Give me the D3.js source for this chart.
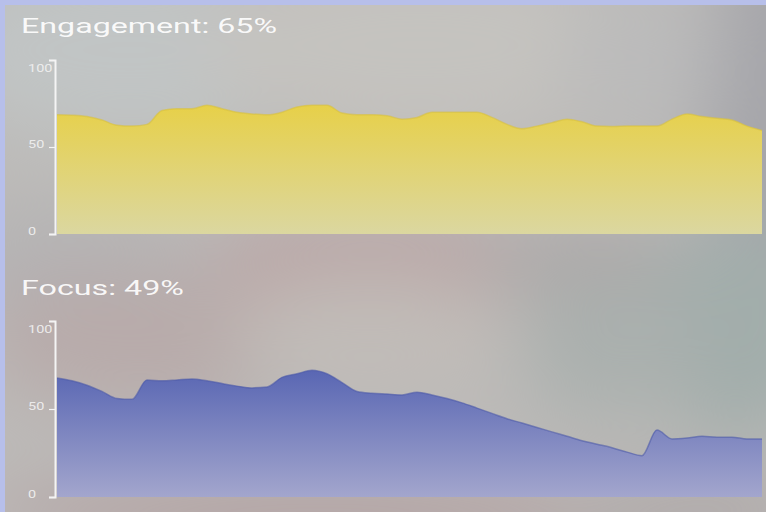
<!DOCTYPE html>
<html><head><meta charset="utf-8">
<script src="https://cdn.jsdelivr.net/npm/d3@7"></script>
<style>html,body{margin:0;padding:0;background:#b7bfea;overflow:hidden} svg{display:block}</style>
</head><body><svg id="c" width="766" height="512"></svg>
<script>
// ---- data ----
const engagementValues = [68.6,68.3,67.5,65.5,62.5,62,63,71,72,72,74,72,70,69,68.5,70,73,74,74,69.5,68.5,68.5,68,66,67,70,70,70,70,67,63,60.5,62,64,66,64.5,62,61.8,62,62,62,66,69,67.5,66.5,65.5,62,59.5];
const focusValues = [67.6,66,63.5,60,56,55.5,66.5,66,66.5,67,66,64.5,63,62,62.5,68,70,72,70,65,60,59,58.5,58,59.5,58,56,53.5,50.5,47.5,44.5,42,39.5,37,34.5,32,30,28,25.5,23.5,38,33,33.5,34.5,34,34,33,33];
const yTickValues = [0,50,100];
const panelTitles = ["Engagement: 65%", "Focus: 49%"];

const W = 766, H = 512;
const svg = d3.select("#c");
const defs = svg.append("defs");

// ---- background ----
svg.append("rect").attr("width",W).attr("height",H).attr("fill","#b7bfea");
defs.append("clipPath").attr("id","panelClip").append("rect").attr("x",5).attr("y",5).attr("width",W-5).attr("height",H-5);
defs.append("filter").attr("id","blur").attr("x","-50%").attr("y","-50%").attr("width","200%").attr("height","200%")
  .append("feGaussianBlur").attr("stdDeviation",36);
const bg = svg.append("g").attr("clip-path","url(#panelClip)");
bg.append("rect").attr("x",5).attr("y",5).attr("width",W).attr("height",H).attr("fill","#bcbab8");
const blobs = bg.append("g").attr("filter","url(#blur)");
const blobData = [
  {cx:130,cy:50,rx:200,ry:90,c:"#c1c5c5"},
  {cx:420,cy:45,rx:220,ry:90,c:"#c5c3bf"},
  {cx:790,cy:130,rx:90,ry:220,c:"#a6a6aa"},
  {cx:640,cy:60,rx:80,ry:70,c:"#bbbbbb"},
  {cx:70,cy:262,rx:130,ry:45,c:"#b3b2b4"},
  {cx:370,cy:262,rx:160,ry:42,c:"#b9a1a2"},
  {cx:590,cy:262,rx:110,ry:40,c:"#aca8a8"},
  {cx:740,cy:330,rx:100,ry:110,c:"#a2adab"},
  {cx:610,cy:350,rx:90,ry:70,c:"#aab0ae"},
  {cx:140,cy:340,rx:160,ry:70,c:"#b8abaa"},
  {cx:370,cy:330,rx:140,ry:60,c:"#c1bcb8"},
  {cx:320,cy:515,rx:340,ry:28,c:"#b19c9e"},
  {cx:690,cy:515,rx:140,ry:25,c:"#aaa2a3"}
];
blobs.selectAll("ellipse").data(blobData).join("ellipse")
  .attr("cx",d=>d.cx).attr("cy",d=>d.cy).attr("rx",d=>d.rx).attr("ry",d=>d.ry).attr("fill",d=>d.c);

// ---- panels ----
const panels = [
  {title:panelTitles[0], values:engagementValues, top:60, bottom:234, titleY:33, titleW:256,
   c1:"#e7d048", c2:"#dbd7a0", stroke:"#d9c23e", id:"gY"},
  {title:panelTitles[1], values:focusValues, top:321, bottom:497, titleY:295, titleW:163,
   c1:"#5664b2", c2:"#a3a6cd", stroke:"#4c5aa8", id:"gB"}
];
const axisX = 55, xLeft = 57, xRight = 762;

panels.forEach(p => {
  const x = d3.scaleLinear().domain([0, p.values.length-1]).range([xLeft, xRight]);
  const y = d3.scaleLinear().domain([0,100]).range([p.bottom, p.top]);

  const g = defs.append("linearGradient").attr("id",p.id).attr("gradientUnits","userSpaceOnUse")
    .attr("x1",0).attr("x2",0).attr("y1",y(75)).attr("y2",p.bottom);
  g.append("stop").attr("offset","0%").attr("stop-color",p.c1);
  g.append("stop").attr("offset","100%").attr("stop-color",p.c2);

  const area = d3.area().x((d,i)=>x(i)).y0(y(0)).y1(d=>y(d)).curve(d3.curveMonotoneX);
  const line = d3.line().x((d,i)=>x(i)).y(d=>y(d)).curve(d3.curveMonotoneX);
  svg.append("path").datum(p.values).attr("d",area).attr("fill",`url(#${p.id})`);
  svg.append("path").datum(p.values).attr("d",line).attr("fill","none")
    .attr("stroke",p.stroke).attr("stroke-width",1.5).attr("stroke-opacity",0.6);

  const ax = svg.append("g").attr("transform",`translate(${axisX},0)`)
    .call(d3.axisLeft(y).tickValues(yTickValues).tickSize(6).tickSizeOuter(6));
  ax.select(".domain").attr("stroke","#f4f4f4").attr("stroke-width",2);
  ax.selectAll(".tick line").attr("stroke","#f4f4f4").attr("stroke-width",1.2);
  ax.selectAll(".tick text")
    .attr("fill","#f2f2f2").attr("fill-opacity",0.9)
    .style("font-family","Roboto, 'DejaVu Sans', sans-serif").style("font-size","10px")
    .attr("text-anchor","start").attr("x",-27)
    .attr("dy",d => d===100 ? "1.15em" : "0em")
    .each(function(){ const L=this.getComputedTextLength(); d3.select(this).attr("textLength",L*1.45).attr("lengthAdjust","spacingAndGlyphs"); });

  svg.append("text").attr("x",21).attr("y",p.titleY).text(p.title)
    .attr("fill","#ffffff").attr("fill-opacity",0.93)
    .style("font-family","Roboto, 'Open Sans', sans-serif").style("font-size","21px")
    .attr("textLength",p.titleW).attr("lengthAdjust","spacingAndGlyphs");
});
</script></body></html>
